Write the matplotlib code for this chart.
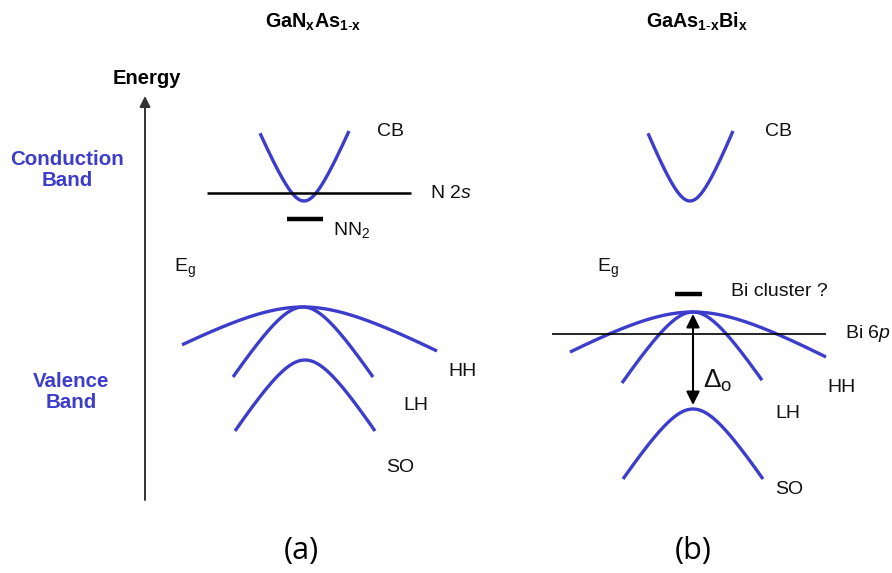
import numpy as np
import matplotlib
matplotlib.use("Agg")
import matplotlib.pyplot as plt

plt.rcParams['font.family'] = ['Liberation Sans', 'DejaVu Sans']
plt.rcParams['mathtext.fontset'] = 'custom'
plt.rcParams['mathtext.rm'] = 'Liberation Sans'
plt.rcParams['mathtext.it'] = 'Liberation Sans:italic'
plt.rcParams['mathtext.bf'] = 'Liberation Sans:bold'

BLUE = '#3d3dcc'

# ---- schematic data (pixel-like diagram units) ----
# bands: apex x, apex y, left half-width, right half-width, drop at ends, rounding width, sign (+1 = opens up)
band_names = ['CB_a', 'HH_a', 'LH_a', 'SO_a', 'CB_b', 'HH_b', 'LH_b', 'SO_b']
band_x0 = [304, 303, 303, 305, 690, 693, 693, 693]
band_y0 = [201, 307, 307, 360, 201, 312, 312, 409]
band_wl = [44, 121, 70, 70, 42, 123, 71, 70]
band_wr = [45, 134, 70, 70, 43, 133, 69, 70]
band_drop = [70, 44, 70, 71, 70, 45, 71, 70]
band_round = [20, 70, 32, 32, 20, 70, 32, 32]
band_sign = [1, -1, -1, -1, 1, -1, -1, -1]

# flat levels: x start, x end, y, linewidth
level_names = ['N 2s', 'NN2', 'Bi 6p', 'Bi cluster']
level_x1 = [207, 287, 552, 675]
level_x2 = [411, 323, 826, 702]
level_y = [193, 219, 334, 294]
level_lw = [1.8, 3.2, 1.2, 3.2]

# text labels: text, x (left), y (center)
label_texts = ['CB', r'N 2$\mathit{s}$', r'NN$_\mathrm{2}$', r'E$_\mathrm{g}$', 'HH', 'LH', 'SO',
               'CB', r'E$_\mathrm{g}$', 'Bi cluster ?', r'Bi 6$\mathit{p}$', 'HH', 'LH', 'SO']
label_x = [377, 430, 333, 174, 448, 403, 386,
           765, 597, 731, 845, 827, 775, 775]
label_y = [131, 193, 230, 268, 371, 405, 467,
           131, 268, 292, 334, 388, 414, 489]

titles = [r'$\mathbf{GaN_{x}As_{1\text{-}x}}$', r'$\mathbf{GaAs_{1\text{-}x}Bi_{x}}$']
title_x = [313, 697]
panel_labels = ['(a)', '(b)']
panel_x = [301, 693]

fig = plt.figure(figsize=(8.92, 5.73), dpi=100)
ax = fig.add_axes([0, 0, 1, 1])
ax.set_xlim(0, 892)
ax.set_ylim(573, 0)
ax.axis('off')

# bands
for x0, y0, wl, wr, d, r, s in zip(band_x0, band_y0, band_wl, band_wr, band_drop, band_round, band_sign):
    x = np.linspace(x0 - wl, x0 + wr, 300)
    w = np.maximum(wl, wr)
    c = d / (np.sqrt(1 + (w / r) ** 2) - 1)
    f = c * (np.sqrt(1 + ((x - x0) / r) ** 2) - 1)
    y = y0 - s * f
    ax.plot(x, y, color=BLUE, lw=2.4, solid_capstyle='butt')

# levels
for x1, x2, y, lw in zip(level_x1, level_x2, level_y, level_lw):
    ax.plot([x1, x2], [y, y], color='black', lw=lw, solid_capstyle='butt')

# labels
for t, x, y in zip(label_texts, label_x, label_y):
    ax.text(x, y, t, fontsize=14, ha='left', va='center', color='#111111')

# Delta_o label
ax.text(703, 381, r'Δ$_\mathrm{o}$', fontsize=19, ha='left', va='center', color='#111111')

# double arrow in (b)
ax.annotate('', xy=(693, 314), xytext=(693, 405),
            arrowprops=dict(arrowstyle='<|-|>', color='black', lw=1.5,
                            mutation_scale=20, shrinkA=0, shrinkB=0))

# energy axis
ax.annotate('', xy=(145, 96), xytext=(145, 500),
            arrowprops=dict(arrowstyle='-|>', color='#333333', lw=1.4,
                            mutation_scale=16, shrinkA=0, shrinkB=0))
ax.text(147, 78, 'Energy', fontsize=14.5, fontweight='bold', ha='center', va='center')

ax.text(67, 170, 'Conduction\nBand', fontsize=14.8, fontweight='bold', ha='center', va='center',
        color=BLUE, linespacing=1.1)
ax.text(71, 392, 'Valence\nBand', fontsize=14.8, fontweight='bold', ha='center', va='center',
        color=BLUE, linespacing=1.1)

for t, x in zip(titles, title_x):
    ax.text(x, 22, t, fontsize=14.2, ha='center', va='center')

for t, x in zip(panel_labels, panel_x):
    ax.text(x, 551, t, fontsize=22, ha='center', va='center', family=['Open Sans', 'DejaVu Sans'])

fig.savefig('out.png', dpi=100)
